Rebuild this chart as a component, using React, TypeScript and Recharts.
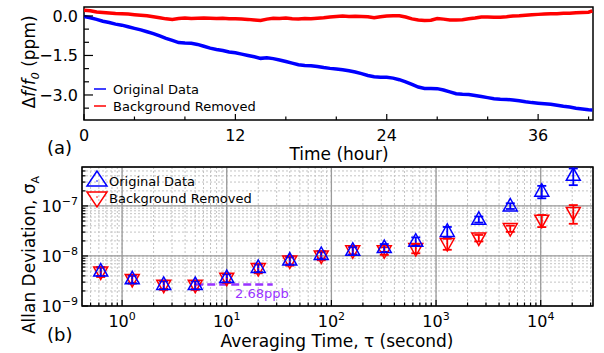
import {
  CartesianGrid,
  ErrorBar,
  Line,
  LineChart,
  ReferenceArea,
  ReferenceLine,
  Scatter,
  ScatterChart,
  XAxis,
  YAxis,
} from "recharts";

const FONT = '"DejaVu Sans", "Liberation Sans", Arial, sans-serif';
const BLUE = "#0000ff";
const RED = "#ff0000";
const PURPLE = "#9933ff";

// (a) frequency drift vs time, every half hour
const TIME_H = [
  0, 0.5, 1, 1.5, 2, 2.5, 3, 3.5, 4, 4.5,
  5, 5.5, 6, 6.5, 7, 7.5, 8, 8.5, 9, 9.5,
  10, 10.5, 11, 11.5, 12, 12.5, 13, 13.5, 14, 14.5,
  15, 15.5, 16, 16.5, 17, 17.5, 18, 18.5, 19, 19.5,
  20, 20.5, 21, 21.5, 22, 22.5, 23, 23.5, 24, 24.5,
  25, 25.5, 26, 26.5, 27, 27.5, 28, 28.5, 29, 29.5,
  30, 30.5, 31, 31.5, 32, 32.5, 33, 33.5, 34, 34.5,
  35, 35.5, 36, 36.5, 37, 37.5, 38, 38.5, 39, 39.5,
  40, 40.3,
];
const ORIGINAL_PPM = [
  -0.02, -0.07, -0.13, -0.2, -0.25, -0.31, -0.35, -0.41, -0.47, -0.53,
  -0.6, -0.67, -0.76, -0.85, -0.93, -1.01, -1.03, -1.04, -1.08, -1.15,
  -1.22, -1.27, -1.31, -1.37, -1.4, -1.45, -1.5, -1.55, -1.61, -1.59,
  -1.62, -1.67, -1.73, -1.79, -1.85, -1.88, -1.89, -1.92, -1.96, -1.99,
  -2.01, -2.04, -2.08, -2.13, -2.19, -2.26, -2.31, -2.33, -2.33, -2.36,
  -2.42, -2.5, -2.6, -2.7, -2.75, -2.75, -2.76, -2.81, -2.88, -2.95,
  -2.97, -2.98, -3.02, -3.06, -3.1, -3.14, -3.16, -3.17, -3.19, -3.22,
  -3.26, -3.29, -3.31, -3.33, -3.35, -3.39, -3.43, -3.46, -3.5, -3.53,
  -3.56, -3.57,
];
const REMOVED_PPM = [
  0.22, 0.2, 0.15, 0.13, 0.11, 0.09, 0.08, 0.07, 0.05, 0.03,
  0.01, -0.03, -0.07, -0.11, -0.13, -0.1, -0.08, -0.1, -0.09, -0.08,
  -0.09, -0.1, -0.09, -0.11, -0.11, -0.12, -0.13, -0.15, -0.17, -0.12,
  -0.09, -0.1, -0.08, -0.11, -0.12, -0.1, -0.11, -0.09, -0.07, -0.04,
  -0.02, 0, -0.02, -0.01, -0.02, -0.03, -0.07, -0.03, 0, 0.01,
  0.01, -0.04, -0.11, -0.15, -0.17, -0.16, -0.1, -0.12, -0.15, -0.15,
  -0.14, -0.11, -0.08, -0.04, -0.04, -0.05, -0.05, -0.03, 0, 0.01,
  0.03, 0.05, 0.06, 0.07, 0.08, 0.08, 0.1, 0.1, 0.12, 0.13,
  0.14, 0.19,
];
const TIME_TICKS = [0, 4, 8, 12, 16, 20, 24, 28, 32, 36, 40];
const TIME_LABELS = [0, 12, 24, 36];
const PPM_TICKS = [0, -0.5, -1, -1.5, -2, -2.5, -3, -3.5];
const PPM_LABELS = [0, -1.5, -3];

// (b) Allan deviation
const TAU_S = [0.625, 1.25, 2.5, 5, 10, 20, 40, 80, 160, 320, 640, 1280, 2560, 5120, 10240, 20480];
const ADEV_ORIGINAL = [5.0e-9, 3.5e-9, 2.7e-9, 2.68e-9, 3.7e-9, 5.9e-9, 8.3e-9, 1.07e-8, 1.3e-8, 1.47e-8, 1.97e-8, 3.1e-8, 5.4e-8, 1.0e-7, 1.97e-7, 4.1e-7];
const ERR_ORIGINAL = [1.0e-9, 6e-10, 5e-10, 5e-10, 7e-10, 1.1e-9, 1.5e-9, 1.8e-9, 2.2e-9, 2.6e-9, 3.8e-9, 7e-9, 7.5e-9, 1.3e-8, 5.5e-8, 1.5e-7];
const ADEV_REMOVED = [4.8e-9, 3.4e-9, 2.6e-9, 2.6e-9, 3.6e-9, 5.6e-9, 7.9e-9, 1.0e-8, 1.27e-8, 1.27e-8, 1.41e-8, 1.77e-8, 2.29e-8, 3.53e-8, 5.18e-8, 7.4e-8];
const ERR_REMOVED = [1.0e-9, 6e-10, 5e-10, 5e-10, 7e-10, 1.1e-9, 1.5e-9, 1.8e-9, 2.2e-9, 2.2e-9, 2.8e-9, 4.4e-9, 3.4e-9, 5e-9, 1.4e-8, 3e-8];
const FLOOR_PPB = 2.68e-9;
const FLOOR_SPAN = [5, 27.5];

const TAU_DOMAIN = [0.414, 31600];
const ADEV_DOMAIN = [1e-9, 6e-7];

function logTicks(lo: number, hi: number, decadesOnly: boolean) {
  const out: number[] = [];
  for (let e = Math.floor(Math.log10(lo)); e <= Math.ceil(Math.log10(hi)); e++) {
    for (let k = 1; k <= (decadesOnly ? 1 : 9); k++) {
      const v = k * Math.pow(10, e);
      if (v >= lo && v < hi) out.push(v);
    }
  }
  return out;
}
const TAU_TICKS = logTicks(TAU_DOMAIN[0], TAU_DOMAIN[1], false);
const TAU_DECADES = logTicks(TAU_DOMAIN[0], TAU_DOMAIN[1], true);
const ADEV_TICKS = logTicks(ADEV_DOMAIN[0], ADEV_DOMAIN[1], false);
const ADEV_DECADES = logTicks(ADEV_DOMAIN[0], ADEV_DOMAIN[1], true);

const driftData = TIME_H.map((t, i) => ({ t, orig: ORIGINAL_PPM[i], bg: REMOVED_PPM[i] }));
const origData = TAU_S.map((tau, i) => ({ tau, adev: ADEV_ORIGINAL[i], err: ERR_ORIGINAL[i] }));
const bgData = TAU_S.map((tau, i) => ({ tau, adev: ADEV_REMOVED[i], err: ERR_REMOVED[i] }));

const isDecade = (v: number) => {
  const e = Math.round(Math.log10(v));
  return Math.abs(v / Math.pow(10, e) - 1) < 1e-6;
};
const minus = (s: string) => s.replace("-", "\u2212");

function TimeTick({ x, y, payload }: any) {
  const major = TIME_LABELS.includes(payload.value);
  return (
    <g>
      <line x1={x} x2={x} y1={y} y2={y - (major ? 6 : 3.5)} stroke="#000" strokeWidth={1.2} />
      {major && (
        <text x={x} y={y + 21} textAnchor="middle" fontSize={16} fontFamily={FONT} fill="#000">
          {payload.value}
        </text>
      )}
    </g>
  );
}

function PpmTick({ x, y, payload }: any) {
  const major = PPM_LABELS.includes(payload.value);
  return (
    <g>
      <line x1={x} x2={x + (major ? 9 : 5)} y1={y} y2={y} stroke="#000" strokeWidth={1.2} />
      {major && (
        <text x={x - 6} y={y + 6} textAnchor="end" fontSize={16} fontFamily={FONT} fill="#000">
          {minus(payload.value.toFixed(1))}
        </text>
      )}
    </g>
  );
}

function TauTick({ x, y, payload }: any) {
  const major = isDecade(payload.value);
  return (
    <g>
      <line x1={x} x2={x} y1={y} y2={y - (major ? 6 : 3.5)} stroke="#000" strokeWidth={1.2} />
      {major && (
        <text x={x} y={y + 21} textAnchor="middle" fontSize={16} fontFamily={FONT} fill="#000">
          10
          <tspan dy={-7} fontSize={11}>
            {Math.round(Math.log10(payload.value))}
          </tspan>
        </text>
      )}
    </g>
  );
}

function AdevTick({ x, y, payload }: any) {
  const major = isDecade(payload.value);
  return (
    <g>
      <line x1={x} x2={x + (major ? 6 : 3.5)} y1={y} y2={y} stroke="#000" strokeWidth={1.2} />
      {major && (
        <text x={x - 4} y={y + 6} textAnchor="end" fontSize={16} fontFamily={FONT} fill="#000">
          10
          <tspan dy={-7} fontSize={11}>
            {minus(String(Math.round(Math.log10(payload.value))))}
          </tspan>
        </text>
      )}
    </g>
  );
}

const UpTri = ({ cx, cy }: any) => (
  <g>
    <polygon points={`${cx},${cy - 7.5} ${cx - 7},${cy + 5} ${cx + 7},${cy + 5}`} fill="none" stroke={BLUE} strokeWidth={1.5} />
    <circle cx={cx} cy={cy} r={0.8} fill={BLUE} />
  </g>
);
const DownTri = ({ cx, cy }: any) => (
  <g>
    <polygon points={`${cx - 7},${cy - 5} ${cx + 7},${cy - 5} ${cx},${cy + 7.5}`} fill="none" stroke={RED} strokeWidth={1.5} />
    <circle cx={cx} cy={cy} r={0.8} fill={RED} />
  </g>
);

const txt = { fontFamily: FONT, fill: "#000" };

export default function App() {
  return (
    <div style={{ position: "absolute", left: 0, top: 0, width: 604, height: 353, background: "#fff" }}>
      <div style={{ position: "absolute", left: 0, top: 0 }}>
        <LineChart width={604} height={160} data={driftData} margin={{ top: 7, right: 11, bottom: 10, left: 24 }}>
          <XAxis
            dataKey="t"
            type="number"
            domain={[0, 40.35]}
            allowDataOverflow
            ticks={TIME_TICKS}
            tick={<TimeTick />}
            tickLine={false}
            tickSize={0}
            tickMargin={0}
            axisLine={false}
            interval={0}
            height={30}
          />
          <YAxis
            type="number"
            domain={[-3.95, 0.34]}
            allowDataOverflow
            ticks={PPM_TICKS}
            tick={<PpmTick />}
            tickLine={false}
            tickSize={0}
            tickMargin={0}
            axisLine={false}
            interval={0}
            width={60}
          />
          <Line dataKey="orig" stroke={BLUE} strokeWidth={3.5} dot={false} isAnimationActive={false} />
          <Line dataKey="bg" stroke={RED} strokeWidth={3.5} dot={false} isAnimationActive={false} />
          <ReferenceArea x1={0} x2={40.35} y1={-3.95} y2={0.34} fill="none" stroke="#000" strokeWidth={1.5} />
        </LineChart>
      </div>
      <div style={{ position: "absolute", left: 0, top: 160 }}>
        <ScatterChart width={604} height={193} margin={{ top: 7, right: 11, bottom: 17, left: 22 }}>
          <XAxis
            xAxisId="main"
            dataKey="tau"
            type="number"
            scale="log"
            domain={TAU_DOMAIN}
            allowDataOverflow
            ticks={TAU_TICKS}
            tick={<TauTick />}
            tickLine={false}
            tickSize={0}
            tickMargin={0}
            axisLine={false}
            interval={0}
            height={30}
          />
          {/* decade-only axes for the solid grid; kept on the far sides so they don't shift the real axes */}
          <XAxis
            xAxisId="dec"
            orientation="top"
            dataKey="tau"
            type="number"
            scale="log"
            domain={TAU_DOMAIN}
            allowDataOverflow
            ticks={TAU_DECADES}
            hide
          />
          <YAxis
            yAxisId="main"
            dataKey="adev"
            type="number"
            scale="log"
            domain={ADEV_DOMAIN}
            allowDataOverflow
            ticks={ADEV_TICKS}
            tick={<AdevTick />}
            tickLine={false}
            tickSize={0}
            tickMargin={0}
            axisLine={false}
            interval={0}
            width={60}
          />
          <YAxis
            yAxisId="dec"
            orientation="right"
            dataKey="adev"
            type="number"
            scale="log"
            domain={ADEV_DOMAIN}
            allowDataOverflow
            ticks={ADEV_DECADES}
            hide
          />
          <CartesianGrid xAxisId="main" yAxisId="main" stroke="#c4c4c4" strokeDasharray="2 2" />
          <CartesianGrid xAxisId="dec" yAxisId="dec" stroke="#9a9a9a" strokeWidth={1.3} />
          <ReferenceLine
            xAxisId="main"
            yAxisId="main"
            segment={[
              { x: FLOOR_SPAN[0], y: FLOOR_PPB },
              { x: FLOOR_SPAN[1], y: FLOOR_PPB },
            ]}
            stroke={PURPLE}
            strokeWidth={2.5}
            strokeDasharray="8 4"
          />
          <Scatter xAxisId="main" yAxisId="main" data={bgData} shape={<DownTri />} isAnimationActive={false}>
            <ErrorBar dataKey="err" direction="y" width={4.5} stroke={RED} strokeWidth={1.8} />
          </Scatter>
          <Scatter xAxisId="main" yAxisId="main" data={origData} shape={<UpTri />} isAnimationActive={false}>
            <ErrorBar dataKey="err" direction="y" width={4.5} stroke={BLUE} strokeWidth={1.8} />
          </Scatter>
          <ReferenceArea
            xAxisId="main"
            yAxisId="main"
            x1={TAU_DOMAIN[0]}
            x2={TAU_DOMAIN[1]}
            y1={ADEV_DOMAIN[0]}
            y2={ADEV_DOMAIN[1]}
            fill="none"
            stroke="#000"
            strokeWidth={1.5}
          />
        </ScatterChart>
      </div>
      <svg width={604} height={353} style={{ position: "absolute", left: 0, top: 0, pointerEvents: "none" }}>
        {/* panel (a) labels */}
        <text {...txt} fontSize={17} textAnchor="middle" transform="translate(35,62) rotate(-90)">
          Δ<tspan fontStyle="italic">f</tspan>/<tspan fontStyle="italic">f</tspan>
          <tspan fontStyle="italic" fontSize={11} dy={4}>0</tspan>
          <tspan dy={-4}> (ppm)</tspan>
        </text>
        <text {...txt} fontSize={18} x={47} y={154}>(a)</text>
        <text {...txt} fontSize={17} x={339} y={160} textAnchor="middle">Time (hour)</text>
        <line x1={94} x2={106} y1={89} y2={89} stroke={BLUE} strokeWidth={1.5} />
        <text {...txt} fontSize={13} x={113} y={94}>Original Data</text>
        <line x1={94} x2={106} y1={106} y2={106} stroke={RED} strokeWidth={1.5} />
        <text {...txt} fontSize={13} x={113} y={111}>Background Removed</text>

        {/* panel (b) labels */}
        <text {...txt} fontSize={17} textAnchor="middle" transform="translate(35,255) rotate(-90)">
          Allan Deviation, σ<tspan fontSize={11} dy={4}>A</tspan>
        </text>
        <text {...txt} fontSize={18} x={47} y={341}>(b)</text>
        <text {...txt} fontSize={17} x={337} y={347} textAnchor="middle">Averaging Time, τ (second)</text>
        <polygon points="97,171 87,186 107,186" fill="none" stroke={BLUE} strokeWidth={1.5} />
        <circle cx={97} cy={181} r={0.8} fill={BLUE} />
        <text {...txt} fontSize={13} x={109} y={186}>Original Data</text>
        <polygon points="87,192 107,192 97,207" fill="none" stroke={RED} strokeWidth={1.5} />
        <circle cx={97} cy={197} r={0.8} fill={RED} />
        <text {...txt} fontSize={13} x={109} y={203}>Background Removed</text>
        <text fontFamily={FONT} fill={PURPLE} fontSize={13} x={235} y={298}>2.68ppb</text>
      </svg>
    </div>
  );
}
